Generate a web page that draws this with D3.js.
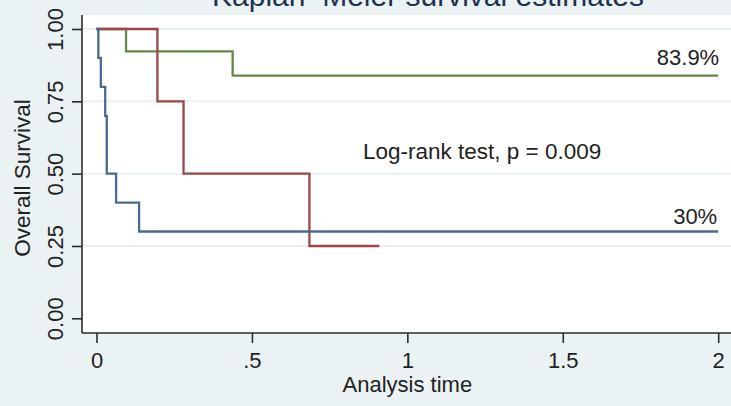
<!DOCTYPE html>
<html>
<head>
<meta charset="utf-8">
<script src="https://cdn.jsdelivr.net/npm/d3@7"></script>
<style>
  html, body { margin: 0; padding: 0; background: #eaf2f3; }
  svg { display: block; font-family: "Liberation Sans", Arial, sans-serif; }
</style>
</head>
<body>
<svg id="chart" width="731" height="406"></svg>
<script>
// Kaplan-Meier step curves: event times and survival estimates per group
const blueTimes = [0, 0.006, 0.014, 0.028, 0.033, 0.063, 0.137, 2.0];
const blueSurv  = [1, 0.90, 0.80, 0.70, 0.50, 0.40, 0.30, 0.30];

const redTimes = [0, 0.196, 0.280, 0.685, 0.91];
const redSurv  = [1, 0.75, 0.50, 0.25, 0.25];

const greenTimes = [0, 0.095, 0.438, 2.0];
const greenSurv  = [1, 0.923, 0.839, 0.839];

const xTicks = [0, 0.5, 1, 1.5, 2];
const xTickLabels = ["0", ".5", "1", "1.5", "2"];
const yTicks = [0, 0.25, 0.5, 0.75, 1];
const yTickLabels = ["0.00", "0.25", "0.50", "0.75", "1.00"];

const titleText = "Kaplan\u2013Meier survival estimates";
const yTitle = "Overall Survival";
const xTitle = "Analysis time";
const testText = "Log-rank test, p = 0.009";

const svg = d3.select("#chart");
const W = 731, H = 406;

// plot region
const plotLeft = 82, plotTop = 15, plotBottom = 333;
const x = d3.scaleLinear().domain([0, 2]).range([96.5, 718.2]);
const y = d3.scaleLinear().domain([0, 1]).range([318.3, 29]);

svg.append("rect").attr("width", W).attr("height", H).attr("fill", "#eaf2f3");
svg.append("rect")
  .attr("x", plotLeft).attr("y", plotTop)
  .attr("width", W - plotLeft + 10).attr("height", plotBottom - plotTop)
  .attr("fill", "#ffffff");

// horizontal grid lines
svg.append("g").selectAll("line")
  .data(yTicks.filter(d => d > 0))
  .join("line")
  .attr("x1", plotLeft).attr("x2", W)
  .attr("y1", d => y(d)).attr("y2", d => y(d))
  .attr("stroke", "#e8f0f2").attr("stroke-width", 2);

// axes
const yAxis = d3.axisLeft(y).tickValues(yTicks)
  .tickFormat((d, i) => yTickLabels[i]).tickSize(10).tickPadding(6);
const gy = svg.append("g").attr("transform", `translate(${plotLeft},0)`).call(yAxis);
gy.select(".domain").attr("d", `M0,${plotTop}V${plotBottom}`);
gy.selectAll("text").remove();
gy.selectAll(".tick")
  .append("text")
  .attr("transform", "translate(-19,0) rotate(-90)")
  .attr("text-anchor", "middle")
  .attr("fill", "#222")
  .style("font-size", "22px")
  .text((d, i) => yTickLabels[i]);

const xAxis = d3.axisBottom(x).tickValues(xTicks)
  .tickFormat((d, i) => xTickLabels[i]).tickSize(10).tickPadding(0);
const gx = svg.append("g").attr("transform", `translate(0,${plotBottom})`).call(xAxis);
gx.select(".domain").attr("d", `M${plotLeft},0H${W + 5}`);
gx.selectAll("text").remove();
gx.selectAll(".tick")
  .append("text")
  .attr("y", 35)
  .attr("text-anchor", "middle")
  .attr("fill", "#222")
  .style("font-size", "22px")
  .text((d, i) => xTickLabels[i]);

svg.selectAll(".domain, .tick line").attr("stroke", "#2b2b2b").attr("stroke-width", 1.6);
svg.selectAll(".tick text").attr("font-family", null);

// survival curves
const line = d3.line().x(d => x(d[0])).y(d => y(d[1])).curve(d3.curveStepAfter);
const series = [
  { t: greenTimes, s: greenSurv, color: "#67864a" },
  { t: redTimes,   s: redSurv,   color: "#9c454b" },
  { t: blueTimes,  s: blueSurv,  color: "#4b6a92" }
];
svg.append("g").selectAll("path")
  .data(series)
  .join("path")
  .attr("d", d => line(d.t.map((t, i) => [t, d.s[i]])))
  .attr("fill", "none")
  .attr("stroke", d => d.color)
  .attr("stroke-width", 2.3);

// annotations
const greenFinal = greenSurv[greenSurv.length - 1];
const blueFinal = blueSurv[blueSurv.length - 1];
svg.append("text")
  .attr("x", x(2) + 1).attr("y", y(greenFinal) - 11)
  .attr("text-anchor", "end").attr("fill", "#222")
  .style("font-size", "22px")
  .text(d3.format(".1f")(greenFinal * 100) + "%");
svg.append("text")
  .attr("x", x(2) - 1).attr("y", y(blueFinal) - 8)
  .attr("text-anchor", "end").attr("fill", "#222")
  .style("font-size", "22px")
  .text(d3.format(".0f")(blueFinal * 100) + "%");
svg.append("text")
  .attr("x", 363).attr("y", 159)
  .attr("fill", "#222")
  .style("font-size", "22.5px")
  .text(testText);

// titles
svg.append("text")
  .attr("x", 428).attr("y", 6)
  .attr("text-anchor", "middle").attr("fill", "#1f3350")
  .style("font-size", "30px")
  .text(titleText);
svg.append("text")
  .attr("transform", `translate(30,${(plotTop + plotBottom) / 2 + 4}) rotate(-90)`)
  .attr("text-anchor", "middle").attr("fill", "#222")
  .style("font-size", "22.5px")
  .text(yTitle);
svg.append("text")
  .attr("x", x(1)).attr("y", 392)
  .attr("text-anchor", "middle").attr("fill", "#222")
  .style("font-size", "22px")
  .text(xTitle);
</script>
</body>
</html>
